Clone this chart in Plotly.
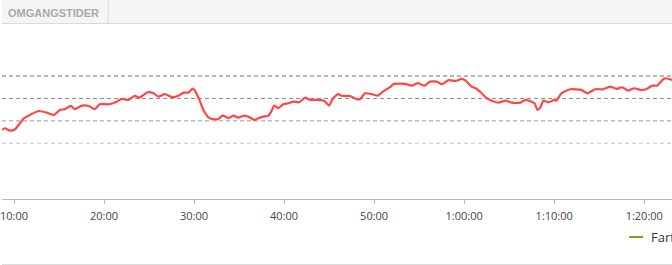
import plotly.graph_objects as go

# Elapsed time (seconds) and speed ("Fart", km/h)
time_s = [520, 538, 573, 607, 666, 706, 766, 819, 866, 906, 939, 979, 1005, 1052, 1098,
          1138, 1171, 1231, 1284, 1318, 1364, 1404, 1437, 1490, 1530, 1563, 1603, 1657,
          1696, 1730, 1763, 1789, 1803, 1836, 1862, 1896, 1936, 1962, 1989, 2009, 2027,
          2062, 2095, 2128, 2162, 2201, 2228, 2261, 2294, 2314, 2334, 2361, 2394, 2427,
          2461, 2500, 2540, 2573, 2620, 2666, 2700, 2726, 2760, 2786, 2839, 2879, 2906,
          2939, 2985, 3025, 3058, 3105, 3132, 3205, 3251, 3291, 3338, 3371, 3417, 3451,
          3497, 3544, 3583, 3610, 3650, 3676, 3710, 3749, 3783, 3829, 3876, 3916, 3975,
          4009, 4049, 4069, 4089, 4108, 4128, 4161, 4201, 4215, 4248, 4308, 4381, 4421,
          4474, 4527, 4574, 4614, 4654, 4693, 4733, 4773, 4813, 4853, 4886, 4926, 4946,
          4986]
speed = [11.19, 11.34, 11.13, 11.25, 12.23, 12.53, 12.88, 12.73, 12.53, 12.97, 13.04,
         13.33, 13.04, 13.36, 13.33, 13.04, 13.48, 13.48, 13.71, 13.96, 13.87, 14.22,
         14.07, 14.55, 14.46, 14.16, 14.38, 14.11, 14.25, 14.52, 14.52, 14.88, 14.76,
         13.87, 12.97, 12.32, 12.14, 12.17, 12.46, 12.38, 12.23, 12.46, 12.29, 12.44,
         12.38, 12.08, 12.23, 12.38, 12.44, 12.82, 13.36, 13.13, 13.48, 13.57, 13.71,
         13.66, 14.07, 13.87, 13.87, 13.80, 13.36, 14.02, 14.38, 14.22, 14.22, 13.96,
         13.93, 14.46, 14.38, 14.25, 14.61, 15.00, 15.30, 15.30, 15.14, 15.36, 15.14,
         15.50, 15.50, 15.27, 15.63, 15.56, 15.74, 15.59, 15.05, 14.91, 14.55, 14.02,
         13.80, 13.63, 13.80, 13.63, 13.63, 13.87, 13.71, 13.57, 12.97, 13.21, 13.80,
         13.66, 13.87, 13.80, 14.46, 14.82, 14.76, 14.46, 14.82, 14.82, 15.05, 14.85,
         15.00, 14.70, 14.91, 14.76, 14.82, 15.14, 15.14, 15.71, 15.80, 15.65]

tick_vals = [600, 1200, 1800, 2400, 3000, 3600, 4200, 4800]
tick_text = ["10:00", "20:00", "30:00", "40:00", "50:00", "1:00:00", "1:10:00", "1:20:00"]

grid_vals = [16, 14, 12, 10]
grid_colors = ["#6e6e6e", "#8a8a8a", "#9a9a9a", "#c4c4c4"]

tab_label = "OMGANGSTIDER"
legend_label = "Fart"

W, H = 672, 265
TOP, BOT = 24, 199
PH = BOT - TOP


def py(pix):
    return (BOT - pix) / PH


def px(pix):
    return pix / W


fig = go.Figure()
fig.add_trace(go.Scatter(x=time_s, y=speed, mode="lines",
                         line=dict(color="#ff4646", width=2.2, shape="spline", smoothing=0.5),
                         showlegend=False, hoverinfo="skip"))

shapes = []
for v, c in zip(grid_vals, grid_colors):
    shapes.append(dict(type="line", xref="paper", yref="y", x0=0, x1=1, y0=v, y1=v,
                       line=dict(color=c, width=1, dash="4px,3px"), layer="below"))
# top tab band
shapes.append(dict(type="rect", xref="paper", yref="paper", x0=0, x1=1,
                   y0=py(23.5), y1=py(-1), fillcolor="#f5f5f5", line=dict(width=0)))
shapes.append(dict(type="line", xref="paper", yref="paper", x0=0, x1=1,
                   y0=py(23.5), y1=py(23.5), line=dict(color="#d9d9d9", width=1)))
shapes.append(dict(type="line", xref="paper", yref="paper", x0=px(106.5), x1=px(106.5),
                   y0=py(23.5), y1=py(0), line=dict(color="#d9d9d9", width=1)))
# bottom separator
shapes.append(dict(type="line", xref="paper", yref="paper", x0=0, x1=1,
                   y0=py(264.5), y1=py(264.5), line=dict(color="#dcdcdc", width=1)))
# legend sample
shapes.append(dict(type="line", xref="paper", yref="paper", x0=px(629), x1=px(643),
                   y0=py(237), y1=py(237), line=dict(color="#8aa012", width=2)))

annotations = [
    dict(text=tab_label, xref="paper", yref="paper", x=px(4), y=py(12.5),
         xanchor="left", yanchor="middle", showarrow=False,
         font=dict(family="Liberation Sans, Arial", size=11, color="#a9a9a9", weight="bold")),
    dict(text=legend_label, xref="paper", yref="paper", x=px(649), y=py(237),
         xanchor="left", yanchor="middle", showarrow=False,
         font=dict(family="Open Sans", size=13, color="#333333")),
]

fig.update_layout(
    width=W, height=H,
    margin=dict(l=0, r=0, t=TOP, b=H - BOT, pad=0),
    paper_bgcolor="white", plot_bgcolor="white",
    showlegend=False,
    shapes=shapes, annotations=annotations,
    xaxis=dict(range=[520, 4985], tickvals=tick_vals, ticktext=tick_text,
               showgrid=False, zeroline=False, showline=True, linecolor="#b8b8b8",
               linewidth=1, ticks="outside", ticklen=4, tickcolor="#b8b8b8",
               ticklabeloverflow="allow", ticklabelstandoff=3,
               tickfont=dict(family="Open Sans", size=11, color="#444444")),
    yaxis=dict(range=[5.026, 20.643], showgrid=False, zeroline=False,
               showticklabels=False, showline=False),
)

fig.write_html("out.html")
